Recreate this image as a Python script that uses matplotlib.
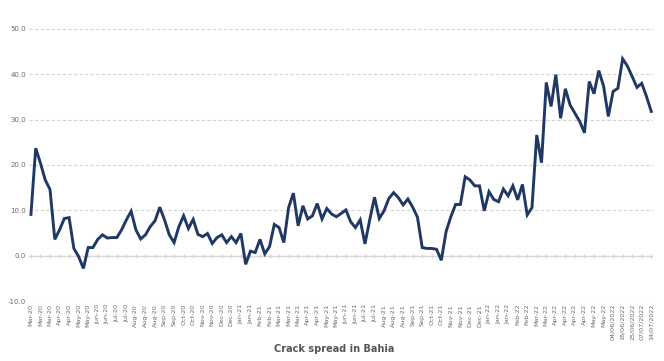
import numpy as np
import matplotlib.pyplot as plt

spread = [
    9.1, 23.7, 20.4, 16.7, 14.6, 3.6, 5.7, 8.2, 8.4, 1.6,
    -0.2, -2.8, 1.8, 1.8, 3.6, 4.6, 3.9, 4.0, 4.0, 5.7,
    7.9, 9.8, 5.7, 3.7, 4.6, 6.4, 7.7, 10.7, 7.9, 4.6,
    2.9, 6.4, 8.8, 6.0, 8.0, 4.7, 4.2, 4.9, 2.7, 4.0,
    4.6, 2.9, 4.2, 2.9, 4.9, -1.9, 1.0, 0.7, 3.6, 0.4,
    2.0, 6.9, 6.2, 2.9, 10.6, 13.8, 6.6, 11.0, 8.1, 8.8,
    11.5, 8.1, 10.4, 9.2, 8.6, 9.3, 10.1, 7.5, 6.2, 7.9,
    2.6, 7.9, 12.9, 8.2, 9.9, 12.6, 13.9, 12.8, 11.2, 12.5,
    10.7, 8.5, 1.8, 1.6, 1.6, 1.4, -1.0, 5.3, 8.6, 11.3,
    11.3, 17.4, 16.7, 15.4, 15.4, 9.9, 14.1, 12.4, 11.9, 14.7,
    13.2, 15.4, 12.3, 15.7, 9.0, 10.6, 26.6, 20.5, 38.2, 32.9,
    39.9, 30.3, 36.8, 33.2, 31.4, 29.6, 27.1, 38.4, 35.7, 40.8,
    37.4, 30.7, 36.2, 36.9, 43.4, 41.8, 39.5, 37.1, 38.0, 35.1,
    31.8,
]

tick_labels = (
    ["Mar-20"] * 3 + ["Apr-20"] * 2 + ["May-20"] * 2 + ["Jun-20"] * 2
    + ["Jul-20"] * 2 + ["Aug-20"] * 3 + ["Sep-20"] * 2 + ["Oct-20"] * 2
    + ["Nov-20"] * 2 + ["Dec-20"] * 2 + ["Jan-21"] * 2 + ["Feb-21"] * 2
    + ["Mar-21"] * 3 + ["Apr-21"] * 2 + ["May-21"] * 2 + ["Jun-21"] * 2
    + ["Jul-21"] * 2 + ["Aug-21"] * 3 + ["Sep-21"] * 2 + ["Oct-21"] * 2
    + ["Nov-21"] * 2 + ["Dec-21"] * 2 + ["Jan-22"] * 3 + ["Feb-22"] * 2
    + ["Mar-22"] * 2 + ["Apr-22"] * 4 + ["May-22"] * 2
    + ["04/06/2022", "18/06/2022", "25/06/2022", "07/07/2022", "14/07/2022"]
)

x = np.arange(len(spread))
tick_pos = x[::2]

fig = plt.figure(figsize=(6.64, 3.61), dpi=100)
ax = fig.add_axes([0.0437, 0.166, 0.94, 0.754])

# dashed grid, solid axis line at zero with small ticks
for y in range(-10, 51, 10):
    if y == 0:
        continue
    ax.axhline(y, color="#d3d3d3", lw=0.8, ls=(0, (3, 2)), zorder=0)
ax.axhline(0, color="#d6d6d6", lw=1.0, zorder=0)
ax.plot(tick_pos, np.zeros(len(tick_pos)), ls="none", marker="|",
        ms=3, color="#d6d6d6", zorder=0)

ax.plot(x, spread, color="#203864", lw=2.1, solid_joinstyle="miter", zorder=3)

ax.set_xlim(-0.4, len(spread) - 0.6)
ax.set_ylim(-10, 50)
ax.set_yticks(range(-10, 51, 10))
ax.set_yticklabels([f"{v:.1f}" for v in range(-10, 51, 10)],
                   fontsize=5, color="#6a6a6a")
ax.set_xticks(tick_pos)
ax.set_xticklabels(tick_labels, rotation=90, fontsize=4.6, color="#6a6a6a")
ax.tick_params(length=0, pad=2)
for s in ax.spines.values():
    s.set_visible(False)

fig.text(0.503, 0.033, "Crack spread in Bahia", ha="center", va="center",
         fontsize=7, fontweight="bold", color="#555555")

fig.savefig("out.png", dpi=100)
